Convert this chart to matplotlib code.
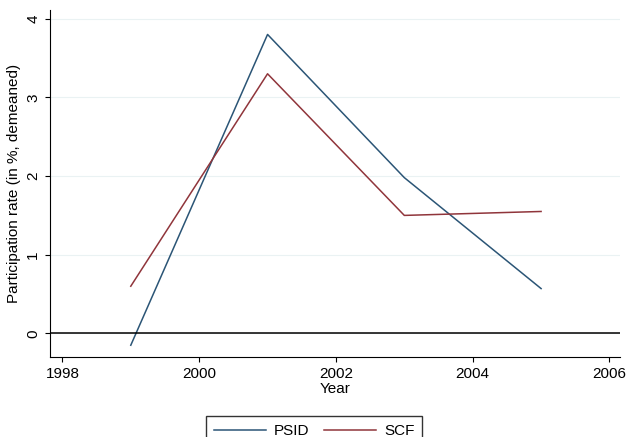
import matplotlib.pyplot as plt

years = [1999, 2001, 2003, 2005]
psid = [-0.15, 3.8, 1.98, 0.57]
scf = [0.6, 3.3, 1.5, 1.55]
xticks = [1998, 2000, 2002, 2004, 2006]
yticks = [0, 1, 2, 3, 4]

plt.rcParams["font.family"] = ["Liberation Sans", "DejaVu Sans"]
fig = plt.figure(figsize=(6.26, 4.37), dpi=100)
ax = fig.add_axes([0.08, 0.183, 0.91, 0.794])

ax.plot(years, psid, color="#2b5576", lw=1.1, label="PSID")
ax.plot(years, scf, color="#90353b", lw=1.1, label="SCF")
ax.axhline(0, color="black", lw=1.1)

ax.set_xlim(1997.82, 2006.15)
ax.set_ylim(-0.3, 4.11)
ax.set_xticks(xticks)
ax.set_yticks(yticks)
ax.set_yticklabels([str(t) for t in yticks], rotation=90, va="center")
ax.grid(axis="y", color="#eaf2f3", lw=0.8)
ax.set_axisbelow(True)
for s in ["top", "right"]:
    ax.spines[s].set_visible(False)
ax.tick_params(labelsize=11)
ax.set_xlabel("Year", fontsize=11, labelpad=1)
ax.set_ylabel("Participation rate (in %, demeaned)", fontsize=11)

fig.legend(loc="lower center", bbox_to_anchor=(0.502, -0.03), ncol=2, fontsize=11,
           frameon=True, fancybox=False, edgecolor="black", handlelength=3.4,
           handletextpad=0.5, columnspacing=1.0, borderpad=0.5, borderaxespad=0.3)
fig.savefig("out.png", dpi=100)
